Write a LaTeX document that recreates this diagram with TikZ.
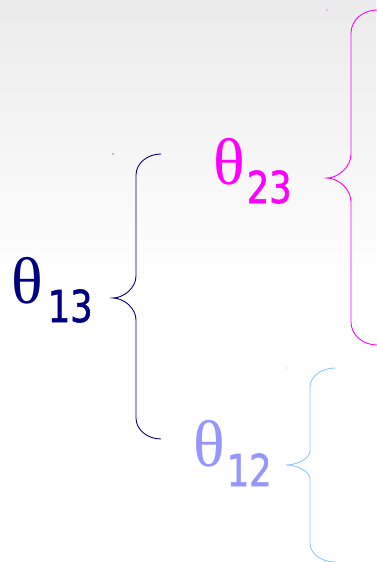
\documentclass[tikz,border=0pt]{standalone}
\usepackage{fontspec}
\newfontfamily\thetafont{Liberation Serif}
\newfontfamily\digitfont[FakeStretch=0.8,FakeBold=1.3]{DejaVu Sans}
\definecolor{navyink}{RGB}{0,0,128}
\definecolor{magentaink}{RGB}{255,0,255}
\definecolor{lilacink}{RGB}{150,150,255}
\definecolor{skyink}{RGB}{140,200,255}
\definecolor{topgrey}{RGB}{235,235,235}

% curly brace opening to the right:
% #1 colour, #2 end x, #3 stem x, #4 tip x, #5 top y, #6 tip y, #7 bottom y, #8 end bend, #9 tip bend
\newcommand\curlybrace[9]{%
  \draw[bracestroke,#1]
    (#2,#5) .. controls ({#3+0.45*(#2-#3)},#5) and (#3,{#5+0.45*#8}) .. (#3,{#5+#8})
    -- (#3,{#6-#9}) .. controls (#3,{#6-0.45*#9}) and ({#4+0.45*(#3-#4)},#6) .. (#4,#6)
    .. controls ({#4+0.45*(#3-#4)},#6) and (#3,{#6+0.45*#9}) .. (#3,{#6+#9})
    -- (#3,{#7-#8}) .. controls (#3,{#7-0.45*#8}) and ({#3+0.45*(#2-#3)},#7) .. (#2,#7);}

\tikzset{
  bracestroke/.style={line width=0.9pt},
  anglelabel/.style={anchor=base west, inner sep=0pt, font=\thetafont\fontsize{66}{66}\selectfont},
}
\newcommand\angsub[2]{\raisebox{-#1pt}{\digitfont\fontsize{44}{44}\selectfont #2}}

\begin{document}
\begin{tikzpicture}[x=1pt,y=-1pt]
\useasboundingbox (0,0) rectangle (376,562);
% soft grey wash fading to white
\fill[white] (0,0) rectangle (376,562);
\shade[top color=topgrey, bottom color=white] (0,0) rectangle (376,285);

% theta_13 and its brace
\node[anglelabel, text=navyink] (t13) at (11,303) {θ\hspace{5pt}\angsub{19}{13}};
\curlybrace{navyink}{161}{136}{113}{154}{298}{439}{21}{22}
\fill[navyink] (113,154) circle (0.6);

% theta_23 and its brace
\node[anglelabel, text=magentaink] (t23) at (213,184) {θ\hspace{2pt}\angsub{19}{23}};
\curlybrace{magentaink}{377}{351}{327}{10}{178}{345}{23}{24}
\fill[magentaink] (327,10) circle (0.6);

% theta_12 and its brace
\node[anglelabel, text=lilacink] (t12) at (193,466) {θ\hspace{2pt}\angsub{20}{12}};
\curlybrace{skyink}{335}{310}{286}{368}{465}{562}{19}{14}
\fill[skyink] (287,368) circle (0.6);
\end{tikzpicture}
\end{document}
